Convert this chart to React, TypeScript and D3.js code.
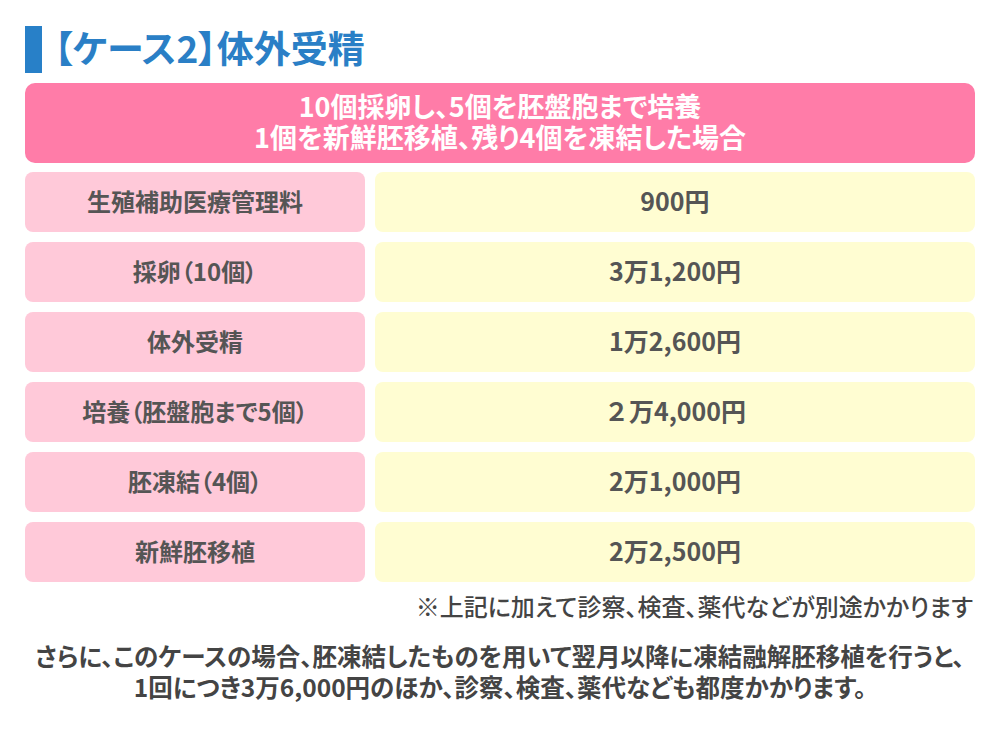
import React from "react";
import * as d3 from "d3";

const title = "【ケース2】体外受精";
const headerLines = ["10個採卵し、5個を胚盤胞まで培養", "1個を新鮮胚移植、残り4個を凍結した場合"];
const items = ["生殖補助医療管理料", "採卵（10個）", "体外受精", "培養（胚盤胞まで5個）", "胚凍結（4個）", "新鮮胚移植"];
const costs = ["900円", "3万1,200円", "1万2,600円", "２万4,000円", "2万1,000円", "2万2,500円"];
const note = "※上記に加えて診察、検査、薬代などが別途かかります";
const footerLines = [
  "さらに、このケースの場合、胚凍結したものを用いて翌月以降に凍結融解胚移植を行うと、",
  "1回につき3万6,000円のほか、診察、検査、薬代なども都度かかります。",
];

const FONT = "'Noto Sans CJK JP', 'Noto Sans', sans-serif";

export default function App() {
  const W = 1000, H = 730;
  const y = d3.scaleBand<string>().domain(items).range([172, 582]).paddingInner(10 / 70).paddingOuter(0);
  const bw = y.bandwidth();
  return (
    <svg width={W} height={H} style={{ position: "absolute", left: 0, top: 0, background: "#fff", fontFeatureSettings: '"palt"' }} fontFamily={FONT}>
      <rect x={0} y={0} width={W} height={H} fill="#fff" />
      <rect x={25} y={26} width={17} height={47} fill="#2880c8" />
      <text x={54} y={63} fontSize={37} fontWeight={700} fill="#2a7fc6">{title}</text>
      <rect x={25} y={83} width={950} height={80} rx={10} fill="#ff7ca8" />
      {headerLines.map((l, i) => (
        <text key={i} x={500} y={117 + i * 31} textAnchor="middle" fontSize={27} fontWeight={700} fill="#fff">{l}</text>
      ))}
      {items.map((it, i) => (
        <g key={it}>
          <rect x={25} y={y(it)} width={340} height={bw} rx={8} fill="#ffc9d9" />
          <rect x={375} y={y(it)} width={600} height={bw} rx={8} fill="#fffdd2" />
          <text x={195} y={(y(it) as number) + bw / 2 + 8.5} textAnchor="middle" fontSize={24} fontWeight={700} fill="#555">{it}</text>
          <text x={675} y={(y(it) as number) + bw / 2 + 9} textAnchor="middle" fontSize={25} fontWeight={700} fill="#555" style={{ fontFeatureSettings: "normal" }}>{costs[i]}</text>
        </g>
      ))}
      <text x={973} y={615.5} textAnchor="end" fontSize={24} fontWeight={500} fill="#444">{note}</text>
      {footerLines.map((l, i) => (
        <text key={i} x={500} y={666 + i * 30.5} textAnchor="middle" fontSize={24.5} fontWeight={700} fill="#444">{l}</text>
      ))}
    </svg>
  );
}
